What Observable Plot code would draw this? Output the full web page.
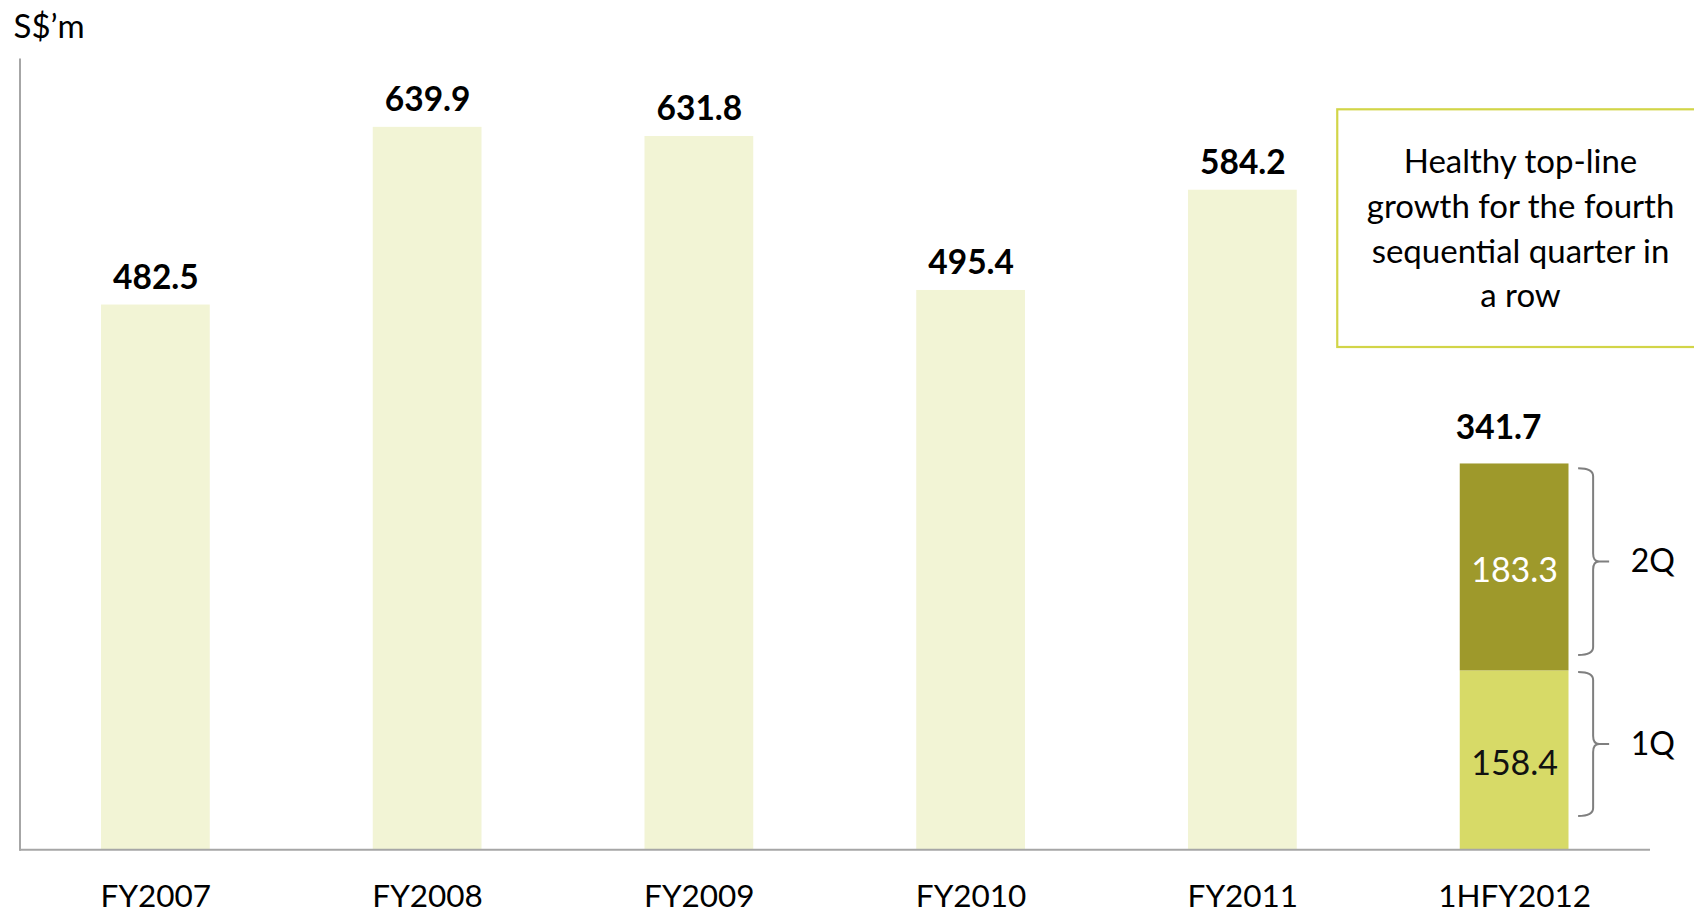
<!DOCTYPE html>
<html>
<head>
<meta charset="utf-8">
<script src="https://cdn.jsdelivr.net/npm/d3@7"></script>
<script src="https://cdn.jsdelivr.net/npm/@observablehq/plot@0.6"></script>
<style>
  html, body { margin: 0; padding: 0; background: #fff; overflow: hidden; }
  svg { display: block; }
</style>
</head>
<body>
<div id="chart"></div>
<script>
// ---- data ----
const periods = ["FY2007", "FY2008", "FY2009", "FY2010", "FY2011", "1HFY2012"];
const fullYearPeriods = ["FY2007", "FY2008", "FY2009", "FY2010", "FY2011"];
const fullYearValues = [482.5, 639.9, 631.8, 495.4, 584.2];
const halfYearPeriod = "1HFY2012";
const quarterLabels = ["1Q", "2Q"];
const quarterValues = [158.4, 183.3];
const halfYearTotal = 341.7;
const braceRanges = [[29.5, 157], [172, 337.5]]; // value span of each brace
const unitLabel = "S$’m";
const noteText = "Healthy top-line\ngrowth for the fourth\nsequential quarter in\na row";

// ---- table built from the arrays ----
const rows = fullYearPeriods.map((p, i) => ({period: p, segment: "FY", value: fullYearValues[i]}));
let acc = 0;
const quarterRows = quarterLabels.map((q, i) => {
  const r = {period: halfYearPeriod, segment: q, value: quarterValues[i], mid: acc + quarterValues[i] / 2};
  acc += quarterValues[i];
  return r;
});
const allRows = rows.concat(quarterRows);
const braceRows = quarterLabels.map((q, i) => ({label: q, lo: braceRanges[i][0], hi: braceRanges[i][1], mid: (braceRanges[i][0] + braceRanges[i][1]) / 2}));

const FONT = "Lato";
const W = 1694, H = 913;

const plot = Plot.plot({
  width: W,
  height: H,
  marginLeft: 19.5,
  marginRight: 44,
  marginTop: 59,
  marginBottom: 63.8,
  style: {fontFamily: FONT, background: "#fff", color: "#000"},
  x: {domain: periods, padding: 0, round: false, label: null},
  y: {domain: [0, 700], axis: null},
  color: {domain: ["FY", "1Q", "2Q"], range: ["#F2F4D5", "#D7DA67", "#9E992B"]},
  marks: [
    Plot.barY(allRows, {x: "period", y: "value", fill: "segment", insetLeft: 81.5, insetRight: 81.5}),
    Plot.frame({anchor: "left", stroke: "#a6a6a6", strokeWidth: 2}),
    Plot.ruleY([0], {stroke: "#a6a6a6", strokeWidth: 2}),
    Plot.axisX({tickSize: 0, tickPadding: 35, fontSize: 31.5, fill: "#000", label: null}),
    // full-year value labels
    Plot.text(rows, {x: "period", y: "value", text: d => d.value.toFixed(1), lineAnchor: "bottom", dy: -16.5, fontSize: 33.5, fontWeight: "bold", fill: "#000"}),
    // half-year total
    Plot.text([halfYearTotal], {x: () => halfYearPeriod, y: d => d, text: d => d.toFixed(1), lineAnchor: "bottom", dy: -25, dx: -16, fontSize: 33.5, fontWeight: "bold", fill: "#000"}),
    // quarter segment labels
    Plot.text(quarterRows, {x: "period", y: "mid", text: d => d.value.toFixed(1), lineAnchor: "middle", dy: 3.5, fontSize: 34, fill: d => d.segment === "2Q" ? "#ffffff" : "#111"}),
    // brace labels
    Plot.text(braceRows, {x: () => halfYearPeriod, y: "mid", text: "label", textAnchor: "start", lineAnchor: "middle", dx: 116, fontSize: 32, fill: "#000"}),
    // unit label
    Plot.text([unitLabel], {frameAnchor: "top-left", text: d => d, textAnchor: "start", lineAnchor: "bottom", dx: -6.5, dy: -21.5, fontSize: 33, fill: "#000"}),
    // annotation text
    Plot.text([noteText], {frameAnchor: "top-right", text: d => d, textAnchor: "middle", lineAnchor: "middle", lineHeight: 1.355, dx: -130, dy: 166.5, fontSize: 33, fill: "#000"})
  ]
});

// annotation box and braces
const sx = plot.scale("x"), sy = plot.scale("y");
const bandStart = sx.apply(halfYearPeriod);
const center = bandStart + sx.bandwidth / 2;
const svg = d3.select(plot);
const boxLeft = bandStart - 41;
svg.insert("rect", ":first-child")
  .attr("x", boxLeft).attr("y", 109.3)
  .attr("width", W - boxLeft + 20).attr("height", 347 - 109.3)
  .attr("fill", "#fff").attr("stroke", "#D2D548").attr("stroke-width", 2.2);

const x0 = center + 64, x1 = center + 79, tip = center + 95;
braceRows.forEach(b => {
  const top = sy.apply(b.hi), bot = sy.apply(b.lo), mid = sy.apply(b.mid);
  const r = 8;
  const d = `M${x0},${top} Q${x1},${top} ${x1},${top + r} L${x1},${mid - r} Q${x1},${mid} ${x1 + 6},${mid} L${tip},${mid}` +
            ` M${x1 + 6},${mid} Q${x1},${mid} ${x1},${mid + r} L${x1},${bot - r} Q${x1},${bot} ${x0},${bot}`;
  svg.append("path").attr("d", d).attr("fill", "none").attr("stroke", "#7f7f7f").attr("stroke-width", 2);
});

document.getElementById("chart").appendChild(plot);
</script>
</body>
</html>
